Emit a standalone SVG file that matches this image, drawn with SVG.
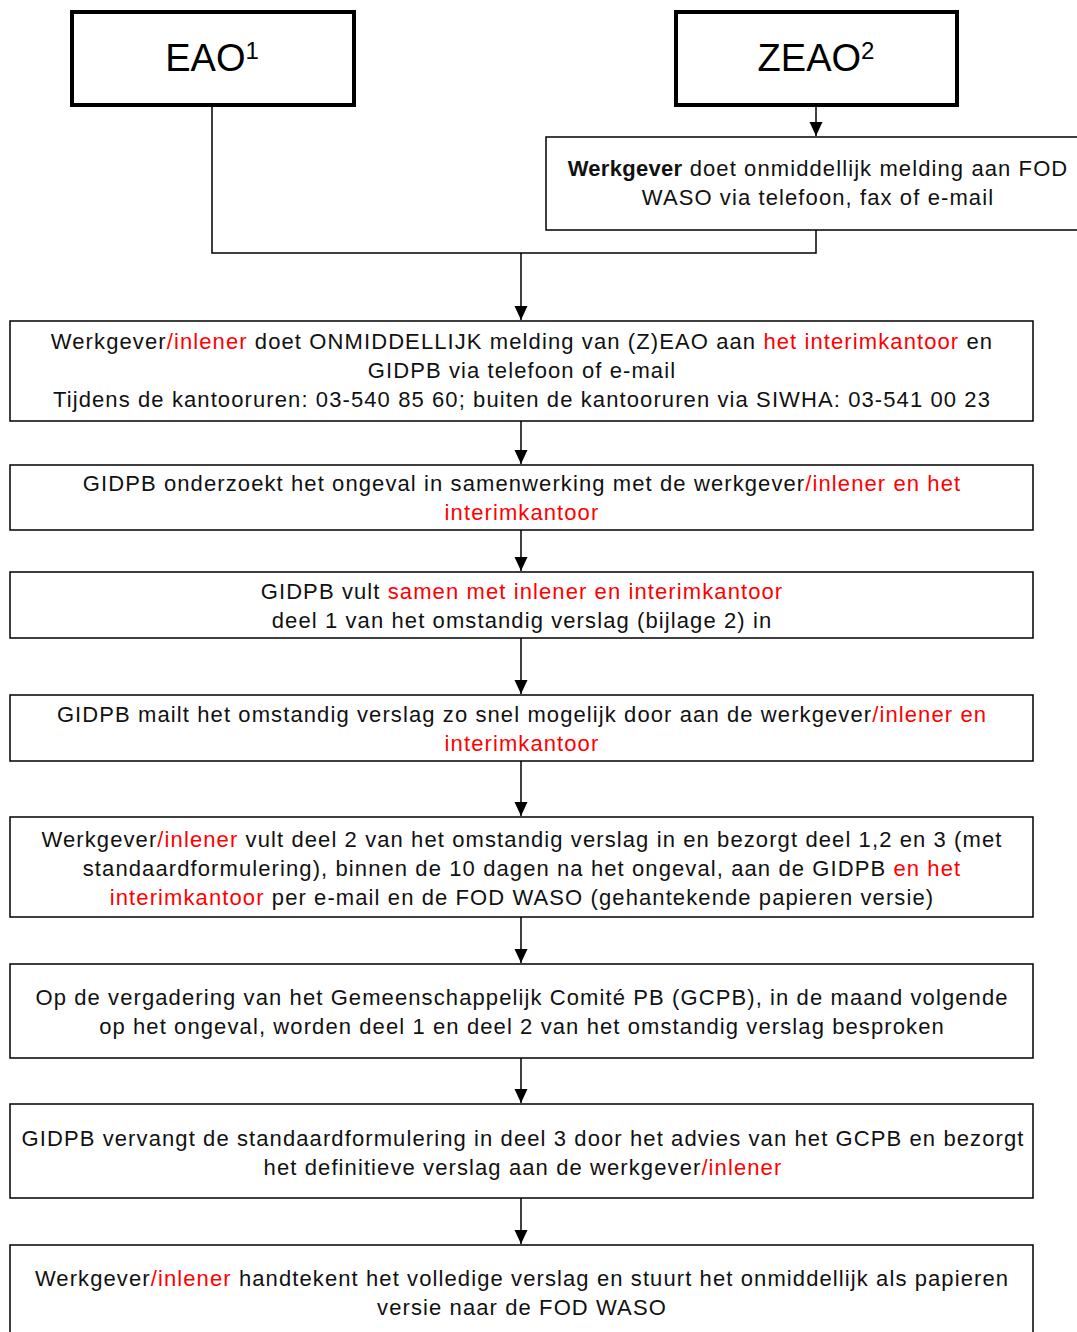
<svg xmlns="http://www.w3.org/2000/svg" width="1077" height="1332" viewBox="0 0 1077 1332">
<defs>
<marker id="ah" markerWidth="14" markerHeight="14" refX="14" refY="7" orient="auto" markerUnits="userSpaceOnUse" viewBox="0 0 14 14">
<path d="M0,0.5 L14,7 L0,13.5 Z" fill="#000"/>
</marker>
</defs>
<style>
.bx{fill:#fff;stroke:#000;stroke-width:1.5}
.tb{fill:#fff;stroke:#000;stroke-width:4}
.t{font-family:"Liberation Sans",Arial,sans-serif;font-size:22px;fill:#111;text-anchor:middle;letter-spacing:1.1px}
.h{font-family:"Liberation Sans",Arial,sans-serif;font-size:38px;fill:#000;text-anchor:middle}
.r{fill:#ff0000}
.c{fill:none;stroke:#000;stroke-width:1.5}
</style>
<rect width="1077" height="1332" fill="#fff"/>
<g id="connectors">
<path class="c" d="M816,105 L816,136" marker-end="url(#ah)"/>
<path class="c" d="M212,105 L212,253 L816,253 L816,230"/>
<path class="c" d="M521,253 L521,320" marker-end="url(#ah)"/>
<path class="c" d="M521,421 L521,464" marker-end="url(#ah)"/>
<path class="c" d="M521,530 L521,571" marker-end="url(#ah)"/>
<path class="c" d="M521,638 L521,694" marker-end="url(#ah)"/>
<path class="c" d="M521,761 L521,816" marker-end="url(#ah)"/>
<path class="c" d="M521,917 L521,963" marker-end="url(#ah)"/>
<path class="c" d="M521,1058 L521,1103" marker-end="url(#ah)"/>
<path class="c" d="M521,1198 L521,1244" marker-end="url(#ah)"/>
</g>
<g id="eao">
<rect class="tb" x="72" y="12" width="282" height="93"/>
<text class="h" x="212" y="71">EAO<tspan font-size="24" dy="-12">1</tspan></text>
</g>
<g id="zeao">
<rect class="tb" x="676" y="12" width="281" height="93"/>
<text class="h" x="816" y="71">ZEAO<tspan font-size="24" dy="-12">2</tspan></text>
</g>
<g id="werkgever-fod">
<rect class="bx" x="546" y="137" width="540" height="93"/>
<text class="t" x="818" y="176"><tspan font-weight="bold" letter-spacing="0.3">Werkgever</tspan> doet onmiddellijk melding aan FOD</text>
<text class="t" x="818" y="205">WASO via telefoon, fax of e-mail</text>
</g>
<g id="n1">
<rect class="bx" x="10" y="321" width="1023" height="100"/>
<text class="t" x="522" y="349">Werkgever<tspan class="r">/inlener</tspan> doet ONMIDDELLIJK melding van (Z)EAO aan <tspan class="r">het interimkantoor</tspan> en</text>
<text class="t" x="522" y="378">GIDPB via telefoon of e-mail</text>
<text class="t" x="522" y="407">Tijdens de kantooruren: 03-540 85 60; buiten de kantooruren via SIWHA: 03-541 00 23</text>
</g>
<g id="n2">
<rect class="bx" x="10" y="465" width="1023" height="65"/>
<text class="t" x="522" y="491">GIDPB onderzoekt het ongeval in samenwerking met de werkgever<tspan class="r">/inlener en het</tspan></text>
<text class="t r" x="522" y="520">interimkantoor</text>
</g>
<g id="n3">
<rect class="bx" x="10" y="572" width="1023" height="66"/>
<text class="t" x="522" y="599">GIDPB vult <tspan class="r">samen met inlener en interimkantoor</tspan></text>
<text class="t" x="522" y="628">deel 1 van het omstandig verslag (bijlage 2) in</text>
</g>
<g id="n4">
<rect class="bx" x="10" y="695" width="1023" height="66"/>
<text class="t" x="522" y="722">GIDPB mailt het omstandig verslag zo snel mogelijk door aan de werkgever<tspan class="r">/inlener en</tspan></text>
<text class="t r" x="522" y="751">interimkantoor</text>
</g>
<g id="n5">
<rect class="bx" x="10" y="817" width="1023" height="100"/>
<text class="t" x="522" y="847">Werkgever<tspan class="r">/inlener</tspan> vult deel 2 van het omstandig verslag in en bezorgt deel 1,2 en 3 (met</text>
<text class="t" x="522" y="876">standaardformulering), binnen de 10 dagen na het ongeval, aan de GIDPB <tspan class="r">en het</tspan></text>
<text class="t" x="522" y="905"><tspan class="r">interimkantoor</tspan> per e-mail en de FOD WASO (gehantekende papieren versie)</text>
</g>
<g id="n6">
<rect class="bx" x="10" y="964" width="1023" height="94"/>
<text class="t" x="522" y="1005">Op de vergadering van het Gemeenschappelijk Comité PB (GCPB), in de maand volgende</text>
<text class="t" x="522" y="1034">op het ongeval, worden deel 1 en deel 2 van het omstandig verslag besproken</text>
</g>
<g id="n7">
<rect class="bx" x="10" y="1104" width="1023" height="94"/>
<text class="t" x="523" y="1146">GIDPB vervangt de standaardformulering in deel 3 door het advies van het GCPB en bezorgt</text>
<text class="t" x="523" y="1175">het definitieve verslag aan de werkgever<tspan class="r">/inlener</tspan></text>
</g>
<g id="n8">
<rect class="bx" x="10" y="1245" width="1023" height="100"/>
<text class="t" x="522" y="1286">Werkgever<tspan class="r">/inlener</tspan> handtekent het volledige verslag en stuurt het onmiddellijk als papieren</text>
<text class="t" x="522" y="1315">versie naar de FOD WASO</text>
</g>
</svg>
